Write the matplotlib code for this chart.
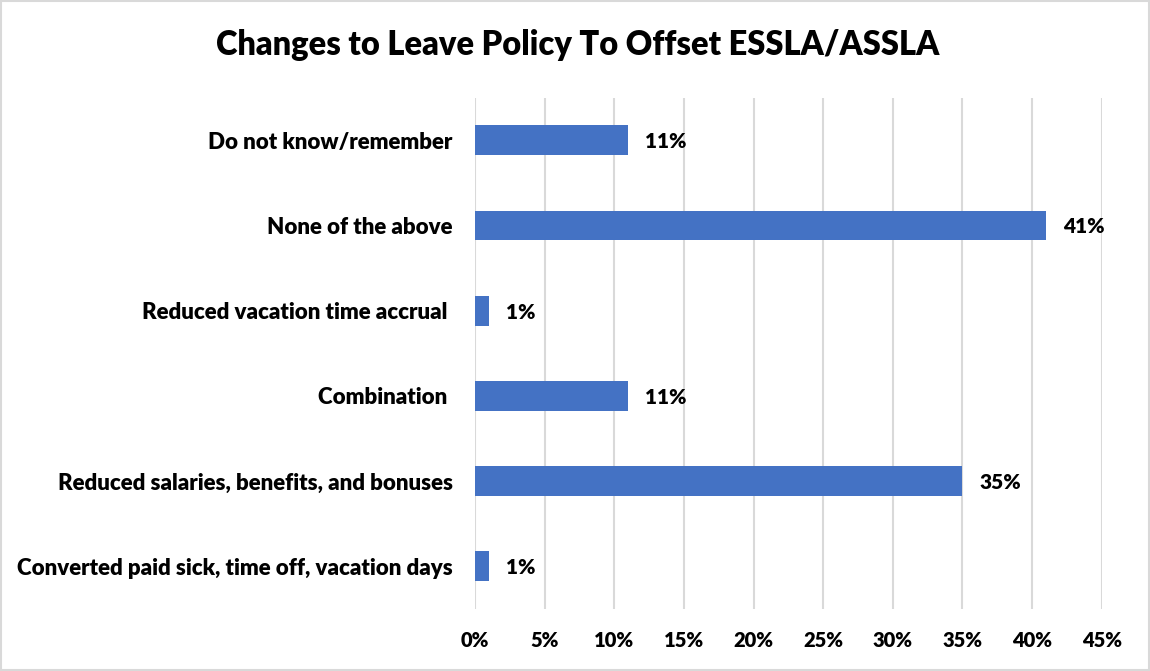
import matplotlib.pyplot as plt
from matplotlib.patches import Rectangle
from matplotlib.ticker import FuncFormatter

plt.rcParams['font.family'] = ['Lato', 'DejaVu Sans']
plt.rcParams['font.weight'] = 'heavy'

categories = [
    "Converted paid sick, time off, vacation days",
    "Reduced salaries, benefits, and bonuses",
    "Combination ",
    "Reduced vacation time accrual ",
    "None of the above",
    "Do not know/remember",
]
values = [1, 35, 11, 1, 41, 11]
ticks = [0, 5, 10, 15, 20, 25, 30, 35, 40, 45]

fig = plt.figure(figsize=(11.5, 6.71), dpi=100)
ax = fig.add_axes([0.413, 0.0924, 0.545, 0.762])

y = range(len(categories))
ax.barh(y, values, height=0.35, color="#4472C4", zorder=3)
for yi, v in zip(y, values):
    ax.annotate(f"{v}%", (v, yi), xytext=(12, -1), textcoords="offset points",
                va="center", ha="left", fontsize=15, fontweight="heavy")

ax.set_xlim(0, 45)
ax.set_ylim(-0.5, len(categories) - 0.5)
ax.set_xticks(ticks)
ax.xaxis.set_major_formatter(FuncFormatter(lambda v, p: f"{v:.0f}%"))
ax.set_yticks(list(y))
ax.set_yticklabels(categories)
ax.tick_params(axis="x", length=0, labelsize=14.5, pad=16)
ax.tick_params(axis="y", length=0, labelsize=16, pad=16)
ax.grid(axis="x", color="#D9D9D9", linewidth=1.5, zorder=0)
for s in ax.spines.values():
    s.set_visible(False)

fig.text(0.502, 0.933, "Changes to Leave Policy To Offset ESSLA/ASSLA",
         ha="center", va="center", fontsize=23.5, fontweight="heavy")

fig.patches.append(Rectangle((0.001, 0.001), 0.998, 0.998, transform=fig.transFigure,
                             fill=False, edgecolor="#D9D9D9", linewidth=1.5))

fig.savefig("out.png", dpi=100)
